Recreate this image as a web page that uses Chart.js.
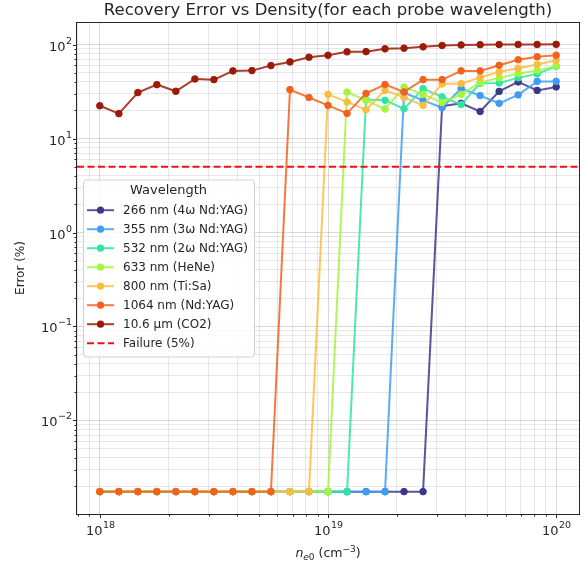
<!DOCTYPE html>
<html>
<head>
<meta charset="utf-8">
<title>Recovery Error vs Density</title>
<script src="https://cdn.jsdelivr.net/npm/chart.js@4.4.1/dist/chart.umd.min.js"></script>
<style>
  html, body { margin: 0; padding: 0; background: #fff; }
  #wrap { width: 588px; height: 569px; }
</style>
</head>
<body>
<div id="wrap"><canvas id="chart" width="588" height="569"></canvas></div>
<script>
// electron density samples n_e0 (cm^-3)
const DENSITY = [
  1.000e18, 1.212e18, 1.468e18, 1.778e18, 2.154e18, 2.610e18, 3.162e18, 3.831e18, 4.642e18,
  5.623e18, 6.813e18, 8.254e18, 1.000e19, 1.212e19, 1.468e19, 1.778e19, 2.154e19, 2.610e19,
  3.162e19, 3.831e19, 4.642e19, 5.623e19, 6.813e19, 8.254e19, 1.000e20
];

const LABELS = [
  '266 nm (4ω Nd:YAG)', '355 nm (3ω Nd:YAG)', '532 nm (2ω Nd:YAG)', '633 nm (HeNe)',
  '800 nm (Ti:Sa)', '1064 nm (Nd:YAG)', '10.6 µm (CO2)'
];
const COLORS = ['#3c3889', '#3f9cf4', '#2fe5a2', '#a4f53e', '#fbbd3f', '#f3621d', '#9b1b08'];

// error (%) per probe wavelength
const ERR_266 = [0.00175, 0.00175, 0.00175, 0.00175, 0.00175, 0.00175, 0.00175, 0.00175, 0.00175,
  0.00175, 0.00175, 0.00175, 0.00175, 0.00175, 0.00175, 0.00175, 0.00175, 0.00175,
  22.1, 23.7, 19.4, 31.7, 40.0, 32.5, 35.4];
const ERR_355 = [0.00175, 0.00175, 0.00175, 0.00175, 0.00175, 0.00175, 0.00175, 0.00175, 0.00175,
  0.00175, 0.00175, 0.00175, 0.00175, 0.00175, 0.00175, 0.00175,
  30.7, 25.5, 21.3, 34.1, 28.6, 23.7, 29.1, 40.5, 40.5];
const ERR_532 = [0.00175, 0.00175, 0.00175, 0.00175, 0.00175, 0.00175, 0.00175, 0.00175, 0.00175,
  0.00175, 0.00175, 0.00175, 0.00175, 0.00175,
  26.0, 25.5, 20.7, 33.9, 27.7, 23.0, 38.7, 39.0, 44.2, 48.7, 58.5];
const ERR_633 = [0.00175, 0.00175, 0.00175, 0.00175, 0.00175, 0.00175, 0.00175, 0.00175, 0.00175,
  0.00175, 0.00175, 0.00175, 0.00175,
  31.2, 25.5, 20.6, 35.2, 29.5, 24.1, 29.5, 39.5, 44.2, 49.0, 52.8, 59.3];
const ERR_800 = [0.00175, 0.00175, 0.00175, 0.00175, 0.00175, 0.00175, 0.00175, 0.00175, 0.00175,
  0.00175, 0.00175, 0.00175,
  29.5, 24.5, 20.2, 32.5, 27.4, 22.5, 38.0, 38.4, 44.6, 51.0, 56.0, 61.4, 68.0];
const ERR_1064 = [0.00175, 0.00175, 0.00175, 0.00175, 0.00175, 0.00175, 0.00175, 0.00175, 0.00175,
  0.00175,
  33.1, 27.3, 22.5, 18.5, 30.2, 37.5, 31.3, 42.3, 42.3, 52.4, 52.4, 60.1, 68.8, 74.0, 76.9];
const ERR_CO2 = [22.3, 18.4, 30.8, 37.4, 31.8, 43.0, 42.3, 52.4, 52.8, 59.7, 65.3, 73.3, 76.9,
  83.6, 84.0, 90.0, 91.4, 94.5, 97.6, 99.0, 99.6, 100.0, 100.2, 100.2, 100.4];

const SERIES = [ERR_266, ERR_355, ERR_532, ERR_633, ERR_800, ERR_1064, ERR_CO2];
const FAILURE = 5;   // failure threshold (%)

// axis limits like matplotlib: 5% margin in log space
function logLimits(values) {
  const lo = Math.log10(Math.min(...values));
  const hi = Math.log10(Math.max(...values));
  const m = (hi - lo) * 0.05;
  return [Math.pow(10, lo - m), Math.pow(10, hi + m)];
}
const [X_MIN, X_MAX] = logLimits(DENSITY);
const [Y_MIN, Y_MAX] = logLimits(SERIES.flat());

// major (10^n) and minor (k*10^n) ticks inside [min, max]
function logTicks(min, max) {
  const out = [];
  for (let e = Math.floor(Math.log10(min)); e <= Math.ceil(Math.log10(max)); e++) {
    for (let k = 1; k <= 9; k++) {
      const v = k * Math.pow(10, e);
      if (v >= min && v <= max) out.push({ value: v, major: k === 1 });
    }
  }
  return out;
}

function hexA(hex, a) {
  const n = parseInt(hex.slice(1), 16);
  return `rgba(${(n >> 16) & 255},${(n >> 8) & 255},${n & 255},${a})`;
}

const FONT = "'DejaVu Sans', sans-serif";
const TXT = '#262626';

const datasets = SERIES.map((s, i) => ({
  label: LABELS[i],
  data: DENSITY.map((x, j) => ({ x, y: s[j] })),
  borderColor: hexA(COLORS[i], 0.85),
  backgroundColor: COLORS[i],
  pointBackgroundColor: COLORS[i],
  pointBorderColor: COLORS[i],
  borderWidth: 2,
  pointRadius: 3.3,
  pointBorderWidth: 1,
  tension: 0,
  order: SERIES.length - i
}));
datasets.push({
  label: 'Failure (5%)',
  data: [{ x: X_MIN, y: FAILURE }, { x: X_MAX, y: FAILURE }],
  borderColor: '#f01010',
  borderDash: [7, 3.5],
  borderWidth: 2,
  pointRadius: 0,
  order: 0
});

const gridColor = ctx => (ctx.tick && ctx.tick.major) ? 'rgba(0,0,0,0.15)' : 'rgba(0,0,0,0.09)';

// "10" with a raised exponent, like mathtext
function drawPow(ctx, value, x, baseline, align) {
  const e = String(Math.round(Math.log10(value))).replace('-', '−');
  ctx.font = `13px ${FONT}`;
  const w1 = ctx.measureText('10').width;
  ctx.font = `9.5px ${FONT}`;
  const w2 = ctx.measureText(e).width;
  const start = align === 'right' ? x - w1 - w2 - 0.5 : x - (w1 + w2 + 0.5) / 2;
  ctx.font = `13px ${FONT}`;
  ctx.fillText('10', start, baseline);
  ctx.font = `9.5px ${FONT}`;
  ctx.fillText(e, start + w1 + 0.5, baseline - 7);
}

// axes box, outward tick marks and tick labels
const framePlugin = {
  id: 'frame',
  afterDatasetsDraw(chart) {
    const { ctx, chartArea: a, scales } = chart;
    ctx.save();
    ctx.strokeStyle = TXT;
    ctx.fillStyle = TXT;
    ctx.lineWidth = 1;
    ctx.textBaseline = 'alphabetic';
    ctx.textAlign = 'left';
    ctx.strokeRect(a.left - 0.5, a.top + 0.5, a.right - a.left + 1, a.bottom - a.top);
    scales.x.ticks.forEach(t => {
      const px = Math.round(scales.x.getPixelForValue(t.value)) + 0.5;
      ctx.beginPath();
      ctx.moveTo(px, a.bottom);
      ctx.lineTo(px, a.bottom + (t.major ? 4 : 2.5));
      ctx.stroke();
      if (t.major) drawPow(ctx, t.value, px, a.bottom + 21, 'center');
    });
    scales.y.ticks.forEach(t => {
      const py = Math.round(scales.y.getPixelForValue(t.value)) + 0.5;
      ctx.beginPath();
      ctx.moveTo(a.left, py);
      ctx.lineTo(a.left - (t.major ? 4 : 2.5), py);
      ctx.stroke();
      if (t.major) drawPow(ctx, t.value, a.left - 5, py + 5.5, 'right');
    });
    ctx.restore();
  }
};

// x label: italic n with subscript e0, cm^-3
const xTitlePlugin = {
  id: 'xTitle',
  afterDraw(chart) {
    const { ctx, chartArea: a } = chart;
    const parts = [
      { t: 'n', f: `italic 12.5px ${FONT}`, dy: 0 },
      { t: 'e', f: `italic 9px ${FONT}`, dy: 3 },
      { t: '0', f: `9px ${FONT}`, dy: 3 },
      { t: ' (cm', f: `12.5px ${FONT}`, dy: 0 },
      { t: '−3', f: `9px ${FONT}`, dy: -5.5 },
      { t: ')', f: `12.5px ${FONT}`, dy: 0 }
    ];
    ctx.save();
    ctx.fillStyle = TXT;
    ctx.textBaseline = 'alphabetic';
    let w = 0;
    parts.forEach(p => { ctx.font = p.f; p.w = ctx.measureText(p.t).width; w += p.w; });
    let x = (a.left + a.right) / 2 - w / 2;
    const base = 557;
    parts.forEach(p => {
      ctx.font = p.f;
      ctx.fillText(p.t, x, base + p.dy);
      x += p.w;
    });
    ctx.restore();
  }
};

// matplotlib style legend box, centre left inside the axes
const legendPlugin = {
  id: 'boxLegend',
  afterDraw(chart) {
    const { ctx, chartArea: a } = chart;
    const ds = chart.data.datasets;
    const rowH = 19;
    const h = 177;
    const left = a.left + 6;
    const top = (a.top + a.bottom) / 2 - h / 2;
    ctx.save();
    ctx.font = `12px ${FONT}`;
    const maxW = Math.max(...ds.map(d => ctx.measureText(d.label).width));
    const w = 40 + maxW + 6;

    ctx.beginPath();
    ctx.roundRect(left + 0.5, top + 0.5, w, h, 3);
    ctx.fillStyle = 'rgba(255,255,255,0.85)';
    ctx.fill();
    ctx.strokeStyle = '#d0d0d0';
    ctx.lineWidth = 1;
    ctx.stroke();

    ctx.fillStyle = TXT;
    ctx.textAlign = 'center';
    ctx.textBaseline = 'middle';
    ctx.font = `13px ${FONT}`;
    ctx.fillText('Wavelength', left + w / 2, top + 11);

    ctx.textAlign = 'left';
    ctx.font = `12px ${FONT}`;
    ds.forEach((d, i) => {
      const y = top + 30.7 + i * rowH;
      ctx.save();
      ctx.strokeStyle = d.borderColor;
      ctx.lineWidth = d.borderWidth;
      if (d.borderDash) ctx.setLineDash(d.borderDash);
      ctx.beginPath();
      ctx.moveTo(left + 4, y);
      ctx.lineTo(left + 31, y);
      ctx.stroke();
      ctx.restore();
      if (d.pointRadius > 0) {
        ctx.beginPath();
        ctx.arc(left + 17.5, y, 3.6, 0, Math.PI * 2);
        ctx.fillStyle = d.pointBackgroundColor;
        ctx.fill();
      }
      ctx.fillStyle = TXT;
      ctx.fillText(d.label, left + 40, y + 0.5);
    });
    ctx.restore();
  }
};

new Chart(document.getElementById('chart'), {
  type: 'line',
  data: { datasets },
  options: {
    responsive: false,
    animation: false,
    devicePixelRatio: 1,
    layout: { padding: { left: 0, right: 9, top: 0, bottom: 0 } },
    plugins: {
      legend: { display: false },
      tooltip: { enabled: false },
      title: {
        display: true,
        fullSize: false,
        text: 'Recovery Error vs Density(for each probe wavelength)',
        color: TXT,
        font: { family: FONT, size: 16.5, weight: 'normal' },
        padding: { top: 1, bottom: 1.2 }
      }
    },
    scales: {
      x: {
        type: 'logarithmic',
        position: 'bottom',
        min: X_MIN,
        max: X_MAX,
        afterBuildTicks: s => { s.ticks = logTicks(X_MIN, X_MAX); },
        afterFit: s => { s.height = 55; },
        grid: { color: gridColor, lineWidth: 1, drawTicks: false },
        border: { display: false },
        ticks: { display: false, autoSkip: false }
      },
      y: {
        type: 'logarithmic',
        position: 'left',
        min: Y_MIN,
        max: Y_MAX,
        afterBuildTicks: s => { s.ticks = logTicks(Y_MIN, Y_MAX); },
        afterFit: s => { s.width = 77; },
        grid: { color: gridColor, lineWidth: 1, drawTicks: false },
        border: { display: false },
        title: {
          display: true,
          text: 'Error (%)',
          color: TXT,
          font: { family: FONT, size: 12 },
          padding: { top: 14, bottom: 0 }
        },
        ticks: { display: false, autoSkip: false }
      }
    }
  },
  plugins: [framePlugin, xTitlePlugin, legendPlugin]
});
</script>
</body>
</html>
